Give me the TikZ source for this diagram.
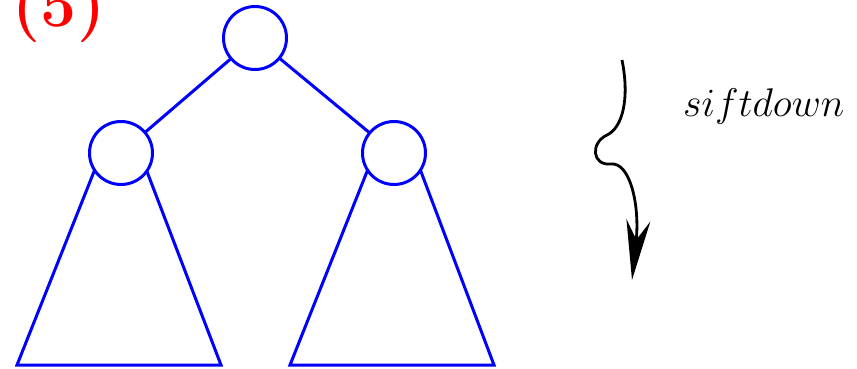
\RequirePackage{fix-cm}
\documentclass[tikz,border=0pt]{standalone}
\usetikzlibrary{arrows.meta}
\begin{document}
\begin{tikzpicture}[x=1pt, y=-1pt,
	heapnode/.style={circle, draw=blue, line width=3pt, minimum size=63pt, inner sep=0pt, outer sep=0pt},
	heapline/.style={draw=blue, line width=3pt}]
	\useasboundingbox (0,0) rectangle (857,368);
	\node[heapnode] (root) at (255,38) {};
	\node[heapnode] (lchild) at (121,153) {};
	\node[heapnode] (rchild) at (394,153) {};
	\draw[heapline] (root) -- (lchild);
	\draw[heapline] (root) -- (rchild);
	% subtrees
	\coordinate (lbl) at (17,365);
	\coordinate (lbr) at (221,365);
	\coordinate (rbl) at (290,365);
	\coordinate (rbr) at (494,365);
	\draw[heapline, line join=miter] (lchild.213) -- (lbl) -- (lbr) -- (lchild.325);
	\draw[heapline, line join=miter] (rchild.213) -- (rbl) -- (rbr) -- (rchild.327);
	% label and arrow
	\node[anchor=base, text=red, font=\fontsize{64}{70}\selectfont\bfseries] (step) at (59,26) {(5)};
	\coordinate (sstart) at (622,60);
	\coordinate (send) at (632,280);
	\draw[line width=2.8pt, -{Stealth[length=60pt, width=24pt]}] (sstart) .. controls (630,100) and (622,128) .. (607,135) .. controls (590,143) and (592,166) .. (611,164) .. controls (630,162) and (640,205) .. (send);
	\node[anchor=base west, inner sep=0pt, font=\fontsize{40}{44}\selectfont] (sift) at (683,116) {$siftdown$};
\end{tikzpicture}
\end{document}
